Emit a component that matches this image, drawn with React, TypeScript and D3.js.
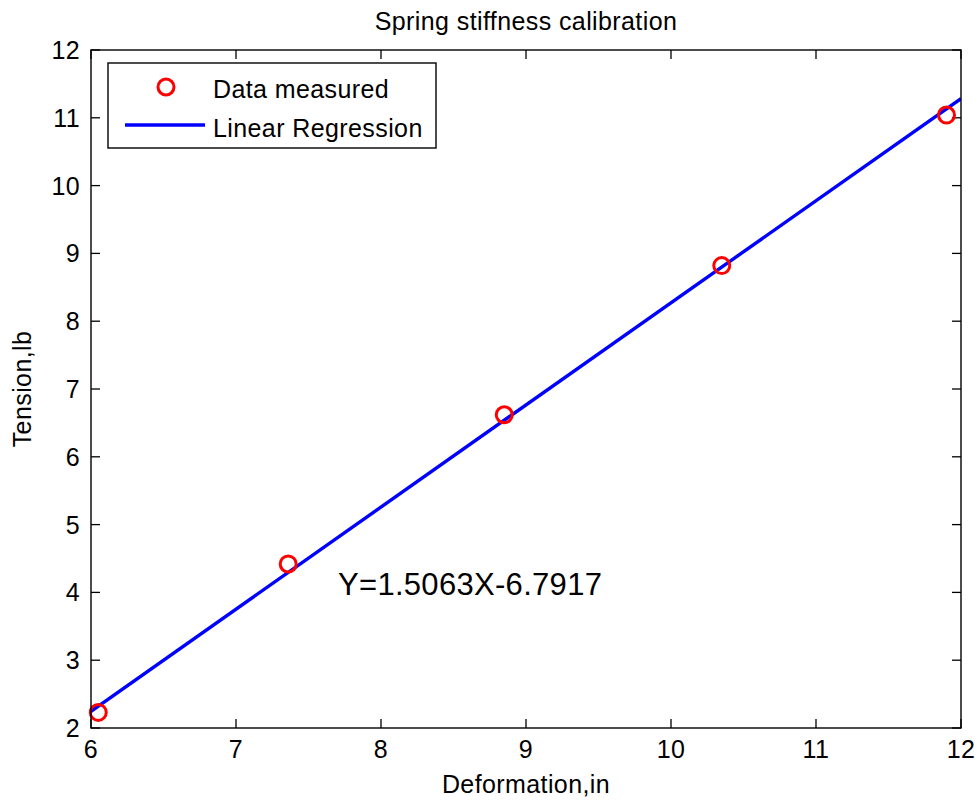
import React from "react";
import * as d3 from "d3";

const dataX = [6.05, 7.36, 8.85, 10.35, 11.9];
const dataY = [2.23, 4.42, 6.62, 8.82, 11.04];
const fitSlope = 1.5063;
const fitIntercept = -6.7917;
const fitX = [6, 12];
const xTicks = [6, 7, 8, 9, 10, 11, 12];
const yTicks = [2, 3, 4, 5, 6, 7, 8, 9, 10, 11, 12];
const titleText = "Spring stiffness calibration";
const xLabel = "Deformation,in";
const yLabel = "Tension,lb";
const equationText = "Y=1.5063X-6.7917";
const legendLabels = ["Data measured", "Linear Regression"];

const W = 979;
const H = 800;
const left = 91;
const right = 961;
const top = 50;
const bottom = 728;
const font = "Arial, 'Liberation Sans', Helvetica, sans-serif";

export default function App() {
  const x = d3.scaleLinear().domain([6, 12]).range([left, right]);
  const y = d3.scaleLinear().domain([2, 12]).range([bottom, top]);
  const line = d3
    .line<number>()
    .x((d) => x(d))
    .y((d) => y(fitSlope * d + fitIntercept));
  const tick = 9;
  const fs = 25;
  const ls = 0.4;

  return (
    <svg
      width={W}
      height={H}
      style={{ position: "absolute", left: 0, top: 0, background: "#fff" }}
      fontFamily={font}
    >
      <rect x={0} y={0} width={W} height={H} fill="#fff" />
      <defs>
        <clipPath id="plotclip">
          <rect x={left} y={top} width={right - left} height={bottom - top} />
        </clipPath>
      </defs>
      {xTicks.map((t) => (
        <g key={"xt" + t}>
          <line x1={x(t)} x2={x(t)} y1={bottom} y2={bottom - tick} stroke="#000" strokeWidth={1.3} />
          <line x1={x(t)} x2={x(t)} y1={top} y2={top + tick} stroke="#000" strokeWidth={1.3} />
          <text x={x(t)} y={758} textAnchor="middle" fontSize={fs} letterSpacing={ls} fill="#000">
            {t}
          </text>
        </g>
      ))}
      {yTicks.map((t) => (
        <g key={"yt" + t}>
          <line x1={left} x2={left + tick} y1={y(t)} y2={y(t)} stroke="#000" strokeWidth={1.3} />
          <line x1={right} x2={right - tick} y1={y(t)} y2={y(t)} stroke="#000" strokeWidth={1.3} />
          <text x={80} y={y(t) + 9} textAnchor="end" fontSize={fs} letterSpacing={ls} fill="#000">
            {t}
          </text>
        </g>
      ))}
      <g clipPath="url(#plotclip)">
        <path d={line(fitX) || ""} fill="none" stroke="#0000ff" strokeWidth={3.4} />
      </g>
      {dataX.map((dx, i) => (
        <circle key={i} cx={x(dx)} cy={y(dataY[i])} r={8} fill="none" stroke="#ff0000" strokeWidth={3} />
      ))}
      <rect x={left} y={top} width={right - left} height={bottom - top} fill="none" stroke="#000" strokeWidth={1.4} />
      <text x={(left + right) / 2} y={30} textAnchor="middle" fontSize={fs} letterSpacing={ls} fill="#000">
        {titleText}
      </text>
      <text x={(left + right) / 2} y={793} textAnchor="middle" fontSize={fs} letterSpacing={ls} fill="#000">
        {xLabel}
      </text>
      <text
        transform={`translate(31,${(top + bottom) / 2}) rotate(-90)`}
        textAnchor="middle"
        fontSize={fs}
        letterSpacing={ls}
        fill="#000"
      >
        {yLabel}
      </text>
      <text x={338} y={595} fontSize={31} letterSpacing={0.3} fill="#000">
        {equationText}
      </text>
      <rect x={108} y={63} width={328} height={85} fill="#fff" stroke="#000" strokeWidth={1.4} />
      <circle cx={166} cy={87} r={8} fill="none" stroke="#ff0000" strokeWidth={3} />
      <line x1={125} x2={205} y1={125} y2={125} stroke="#0000ff" strokeWidth={3.4} />
      <text x={213} y={98} fontSize={fs} letterSpacing={ls} fill="#000">
        {legendLabels[0]}
      </text>
      <text x={213} y={137} fontSize={fs} letterSpacing={ls} fill="#000">
        {legendLabels[1]}
      </text>
    </svg>
  );
}
